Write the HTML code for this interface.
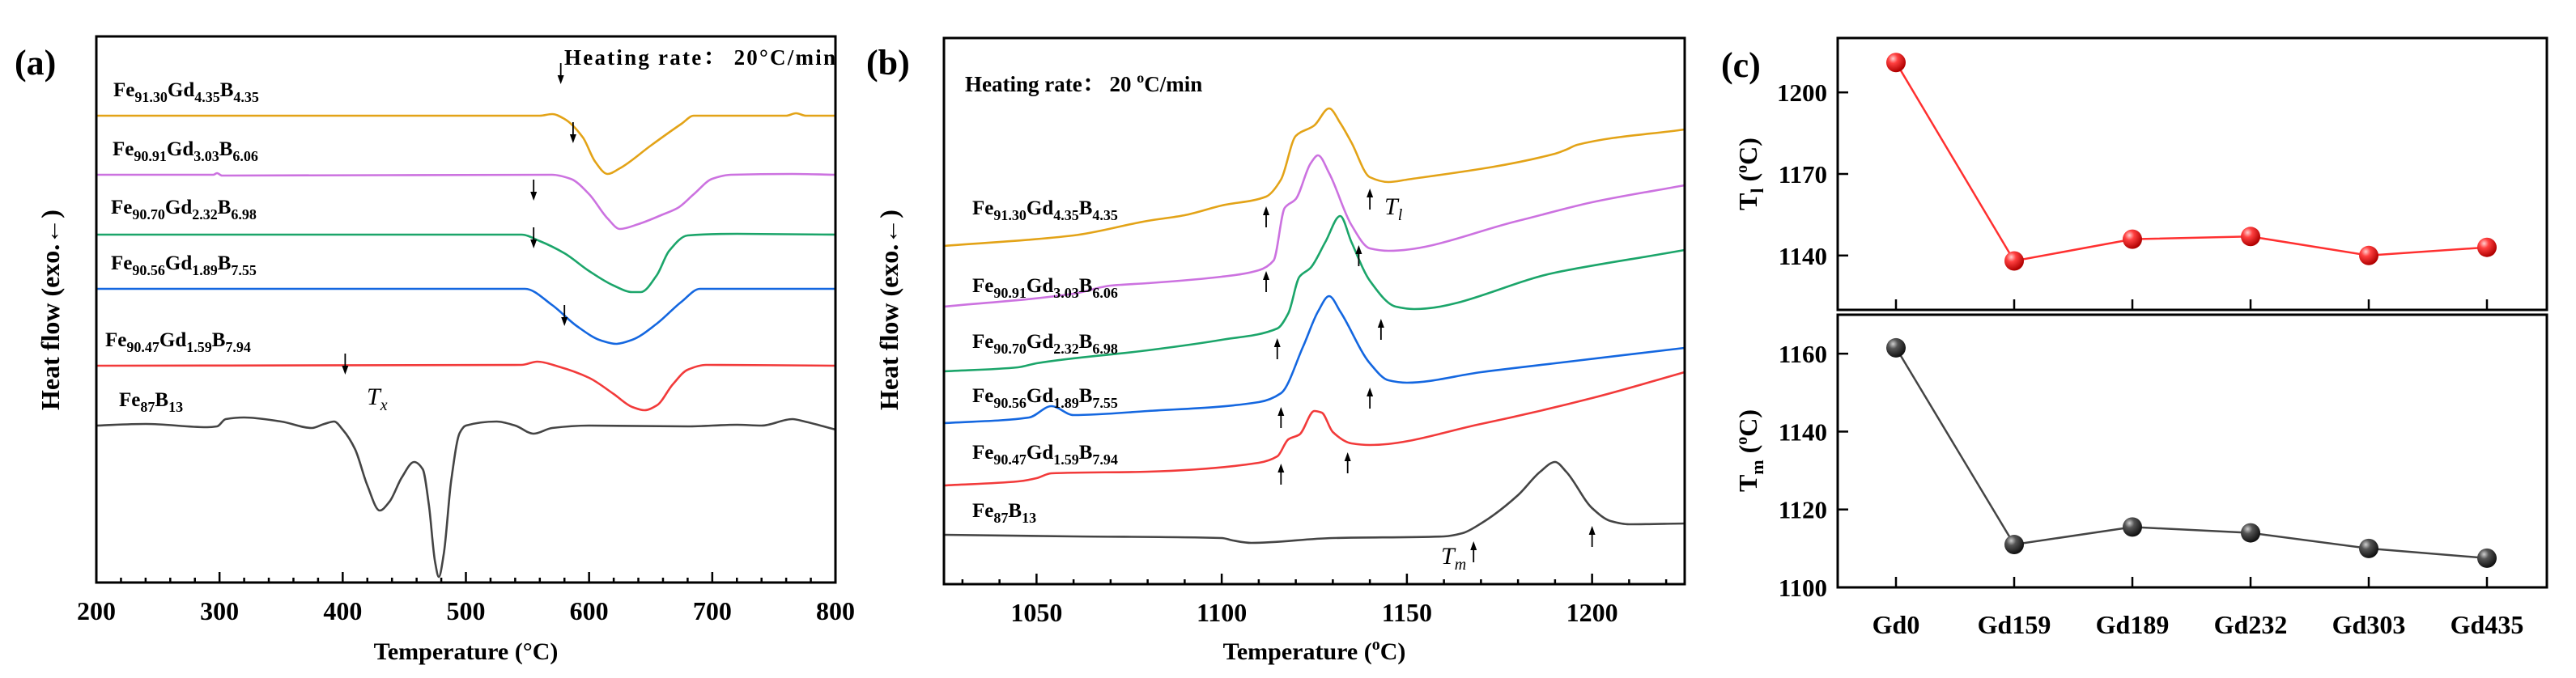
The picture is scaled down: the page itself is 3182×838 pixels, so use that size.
<!DOCTYPE html>
<html><head><meta charset="utf-8">
<style>
html,body{margin:0;padding:0;background:#fff;}
svg{display:block;font-family:"Liberation Serif","Noto Serif CJK SC",serif;font-weight:bold;}
</style></head>
<body>
<svg id="fig" width="3182" height="838" viewBox="0 0 3182 838" xmlns="http://www.w3.org/2000/svg">
<defs>
<radialGradient id="gRed" cx="35%" cy="30%" r="70%"><stop offset="0" stop-color="#ffd0d0"/><stop offset="0.35" stop-color="#ff4040"/><stop offset="1" stop-color="#b00000"/></radialGradient>
<radialGradient id="gGray" cx="35%" cy="30%" r="70%"><stop offset="0" stop-color="#d0d0d0"/><stop offset="0.35" stop-color="#555"/><stop offset="1" stop-color="#111"/></radialGradient>
</defs>
<g id="pa"></g>
<g id="pb"></g>
<g id="pc"></g>
</svg>
<script>
// ---------- Panel (a) data: temperature (°C) vs heat flow (a.u.) ----------
const aNames = ["fe91-30","fe90-91","fe90-70","fe90-56","fe90-47","fe87"];
const aColors = ["#E3A317","#CC72E0","#1BA56A","#1467E0","#F23A3A","#444444"];
const aOrangeT = [200,560,570,580,595,605,615,625,650,675,685,760,768,776,800];
const aOrangeV = [-9.8,-9.8,-9.6,-10.2,-12.5,-15.5,-17.0,-16.3,-13.5,-10.8,-9.8,-9.8,-9.5,-9.8,-9.8];
const aPurpleT = [200,295,298,302,570,585,600,615,625,640,660,672,685,700,715,765,800];
const aPurpleV = [-17.1,-17.1,-16.9,-17.2,-17.1,-17.6,-19.5,-22.5,-23.8,-23.2,-22.0,-21.2,-19.5,-17.6,-17.1,-17.0,-17.1];
const aGreenT = [200,545,560,580,600,620,635,642,655,665,680,720,800];
const aGreenV = [-24.5,-24.5,-25.3,-26.8,-29.0,-30.8,-31.6,-31.6,-29.5,-26.5,-24.6,-24.4,-24.5];
const aBlueT = [200,548,570,590,610,622,635,655,675,690,800];
const aBlueV = [-31.2,-31.2,-33.2,-35.8,-37.6,-38.0,-37.5,-35.5,-32.8,-31.2,-31.2];
const aRedT = [200,545,558,575,600,620,635,645,655,668,680,695,800];
const aRedV = [-40.7,-40.6,-40.2,-40.8,-42.2,-44.2,-45.8,-46.2,-45.6,-43.0,-41.2,-40.6,-40.7];
const aBlackT = [200,240,290,298,305,320,350,375,385,393,400,410,420,430,438,448,458,465,470,475,478,482,488,495,500,525,540,555,570,600,680,720,740,765,775,800];
const aBlackV = [-48.1,-47.9,-48.3,-48.2,-47.3,-47.1,-47.6,-48.4,-47.9,-47.6,-48.6,-51,-55.5,-58.6,-57.5,-54.5,-52.6,-53.5,-58,-65,-66.8,-64,-55,-49,-48.1,-47.6,-48.1,-49.1,-48.4,-48.1,-48.2,-48.0,-48.1,-47.3,-47.6,-48.6];
const aArrowT = [577,587,555,555,580,402];
const aArrowV = [-5.9,-13.2,-20.3,-26.2,-35.8,-41.8];
const aXTicks = [200,300,400,500,600,700,800];

// ---------- Panel (b) data ----------
const bOrangeT = [1025,1060,1080,1090,1100,1112,1116,1120,1125,1129,1132,1135,1140,1145,1150,1190,1193,1196,1225];
const bOrangeV = [-25.7,-24.4,-22.6,-21.9,-20.7,-19.6,-17.5,-12.1,-10.8,-8.7,-10.5,-12.9,-17.2,-17.8,-17.5,-14.3,-13.8,-13.2,-11.3];
const bPurpleT = [1025,1060,1070,1080,1100,1110,1114,1117,1120,1124,1126,1129,1135,1140,1145,1180,1200,1225];
const bPurpleV = [-33.2,-31.6,-30.6,-30.3,-29.5,-28.7,-27.5,-21,-19.9,-15.5,-14.5,-16.7,-23.1,-26.0,-26.3,-22.6,-20.3,-18.2];
const bGreenT = [1025,1045,1050,1080,1100,1115,1118,1121,1124,1128,1132,1135,1140,1147,1152,1190,1220,1225];
const bGreenV = [-41.2,-40.7,-40.2,-38.6,-37.3,-35.9,-34,-29.5,-28.4,-25.2,-22,-25.2,-30.0,-33.2,-33.5,-29.0,-26.6,-26.2];
const bBlueT = [1025,1048,1054,1060,1080,1110,1116,1122,1126,1129,1132,1140,1145,1150,1170,1190,1225];
const bBlueV = [-47.6,-46.9,-45.5,-46.6,-46.1,-45.0,-43.9,-38.1,-33.8,-31.9,-33.8,-40.2,-42.3,-42.6,-41.3,-40.2,-38.3];
const bRedT = [1025,1045,1050,1054,1080,1110,1115,1118,1121,1125,1127,1130,1135,1140,1170,1200,1225];
const bRedV = [-55.3,-54.8,-54.4,-53.8,-53.6,-52.5,-51.7,-49.6,-49.0,-46.1,-46.3,-48.7,-50.1,-50.3,-47.7,-44.5,-41.3];
const bBlackT = [1025,1060,1100,1103,1108,1130,1160,1165,1170,1180,1186,1190,1193,1200,1205,1210,1225];
const bBlackV = [-61.4,-61.6,-61.8,-62.1,-62.4,-61.8,-61.6,-61.2,-60.0,-56.5,-53.6,-52.4,-53.6,-58.1,-59.7,-60.1,-60.0];
const bArrowT = [1112,1140,1112,1137,1115,1143,1116,1140,1116,1134,1168,1200];
const bArrowV = [-23.4,-21.2,-31.4,-28.2,-39.7,-37.3,-48.2,-45.8,-55.2,-53.8,-64.8,-62.9];
const bXTicks = [1050,1100,1150,1200];

// ---------- Panel (c) data ----------
const cCategories = ["Gd0","Gd159","Gd189","Gd232","Gd303","Gd435"];
const cTl = [1211,1138,1146,1147,1140,1143];
const cTm = [1161.5,1111,1115.5,1114,1110,1107.5];
const cTlTicks = [1140,1170,1200];
const cTmTicks = [1100,1120,1140,1160];

const NS = "http://www.w3.org/2000/svg";
function mk(parent, tag, attrs){const e=document.createElementNS(NS,tag);for(const k in attrs)e.setAttribute(k,attrs[k]);parent.appendChild(e);return e;}
// monotone cubic (Fritsch-Carlson) in data space, x strictly increasing
function monoPath(xs,ys){
  const n=xs.length,d=[],m=new Array(n);
  for(let i=0;i<n-1;i++)d.push((ys[i+1]-ys[i])/(xs[i+1]-xs[i]));
  m[0]=d[0];m[n-1]=d[n-2];
  for(let i=1;i<n-1;i++){ if(d[i-1]*d[i]<=0)m[i]=0; else {const h0=xs[i]-xs[i-1],h1=xs[i+1]-xs[i];const w1=2*h1+h0,w2=h1+2*h0;m[i]=(w1+w2)/(w1/d[i-1]+w2/d[i]);} }
  let s="M"+xs[0].toFixed(1)+","+ys[0].toFixed(1);
  for(let i=0;i<n-1;i++){const h=xs[i+1]-xs[i];
    s+="C"+(xs[i]+h/3).toFixed(1)+","+(ys[i]+m[i]*h/3).toFixed(1)+" "+(xs[i+1]-h/3).toFixed(1)+","+(ys[i+1]-m[i+1]*h/3).toFixed(1)+" "+xs[i+1].toFixed(1)+","+ys[i+1].toFixed(1);}
  return s;
}
function txt(parent,x,y,s,size,anchor,extra){const t=mk(parent,"text",Object.assign({x:x,y:y,"font-size":size,"text-anchor":anchor||"start"},extra||{}));t.textContent=s;return t;}
function formula(parent,x,y,parts,name){
  const t=mk(parent,"text",{x:x,y:y,"font-size":25});
  
  
  parts.forEach((p,i)=>{const s=mk(t,"tspan",{});s.textContent=p;
    if(i%2===1){s.setAttribute("font-size","18");s.setAttribute("dy","7");}
    else if(i>0){s.setAttribute("dy","-7");}});
  return t;
}
function arrow(parent,x,y,up,name){
  const g=mk(parent,"g",{});
  
  
  const L=26;
  if(up){mk(g,"line",{x1:x,y1:y,x2:x,y2:y-L+8,stroke:"#000","stroke-width":1.8});mk(g,"polygon",{points:`${x-4},${y-L+11} ${x+4},${y-L+11} ${x},${y-L}`,fill:"#000"});}
  else{mk(g,"line",{x1:x,y1:y-L,x2:x,y2:y-8,stroke:"#000","stroke-width":1.8});mk(g,"polygon",{points:`${x-4},${y-11} ${x+4},${y-11} ${x},${y}`,fill:"#000"});}
}

// ================= Panel A =================
(function(){
  const g=document.getElementById("pa");
  const L=119,R=1032,T=45,B=720;
  const xs=t=>L+(t-200)/600*(R-L);
  const ys=v=>T-v*10;
  const series=[[aOrangeT,aOrangeV],[aPurpleT,aPurpleV],[aGreenT,aGreenV],[aBlueT,aBlueV],[aRedT,aRedV],[aBlackT,aBlackV]];
  series.forEach((s,i)=>{
    const p=mk(g,"path",{d:monoPath(s[0].map(xs),s[1].map(ys)),fill:"none",stroke:aColors[i],"stroke-width":2.6,"stroke-linejoin":"round"});
    
    
  });
  aArrowT.forEach((t,i)=>arrow(g,xs(t),ys(aArrowV[i]),false,'tx-arrow-'+aNames[i]));
  const fr=mk(g,"rect",{x:L,y:T,width:R-L,height:B-T,fill:"none",stroke:"#000","stroke-width":3});
  
  for(let t=200;t<=800;t+=20){const big=(t%100===0);mk(g,"line",{x1:xs(t),y1:B,x2:xs(t),y2:B-(big?13:6),stroke:"#000","stroke-width":2.5});}
  aXTicks.forEach(t=>{const e=txt(g,xs(t),766,String(t),32,"middle");});
  let e=txt(g,(L+R)/2,815,"Temperature (°C)",30,"middle");
  e=txt(g,0,0,"Heat flow (exo.←)",32,"middle",{transform:"translate(73,383) rotate(-90)"});
  e=txt(g,18,92,"(a)",44,"start");
  e=txt(g,697,80,"Heating rate：  20°C/min",27,"start",{textLength:335});
  formula(g,140,119,["Fe","91.30","Gd","4.35","B","4.35"],"label-a-fe91-30");
  formula(g,139,192,["Fe","90.91","Gd","3.03","B","6.06"],"label-a-fe90-91");
  formula(g,137,264,["Fe","90.70","Gd","2.32","B","6.98"],"label-a-fe90-70");
  formula(g,137,333,["Fe","90.56","Gd","1.89","B","7.55"],"label-a-fe90-56");
  formula(g,130,428,["Fe","90.47","Gd","1.59","B","7.94"],"label-a-fe90-47");
  formula(g,147,502,["Fe","87","B","13"],"label-a-fe87");
  e=mk(g,"text",{x:453,y:500,"font-size":30,"font-style":"italic","font-weight":"normal"});e.innerHTML='T<tspan font-size="20" dy="7">x</tspan>';
  
})();

// ================= Panel B =================
(function(){
  const g=document.getElementById("pb");
  const L=1166,R=2081,T=47,B=722;
  const xs=t=>L+(t-1025)/200*(R-L);
  const ys=v=>T-v*10;
  const series=[[bOrangeT,bOrangeV],[bPurpleT,bPurpleV],[bGreenT,bGreenV],[bBlueT,bBlueV],[bRedT,bRedV],[bBlackT,bBlackV]];
  series.forEach((s,i)=>{
    const p=mk(g,"path",{d:monoPath(s[0].map(xs),s[1].map(ys)),fill:"none",stroke:aColors[i],"stroke-width":2.6,"stroke-linejoin":"round"});
    
    
  });
  bArrowT.forEach((t,i)=>arrow(g,xs(t),ys(bArrowV[i]),true,'arrow-b-'+i));
  const fr=mk(g,"rect",{x:L,y:T,width:R-L,height:B-T,fill:"none",stroke:"#000","stroke-width":3});
  
  for(let t=1030;t<=1220;t+=10){const big=(t%50===0);mk(g,"line",{x1:xs(t),y1:B,x2:xs(t),y2:B-(big?13:6),stroke:"#000","stroke-width":2.5});}
  bXTicks.forEach(t=>{const e=txt(g,xs(t),768,String(t),32,"middle");});
  let e=mk(g,"text",{x:(L+R)/2,y:815,"font-size":30,"text-anchor":"middle"});e.innerHTML='Temperature (<tspan font-size="20" dy="-12">o</tspan><tspan dy="12">C)</tspan>';
  
  e=txt(g,0,0,"Heat flow (exo.←)",32,"middle",{transform:"translate(1109,383) rotate(-90)"});
  e=txt(g,1070,92,"(b)",44,"start");
  e=mk(g,"text",{x:1192,y:113,"font-size":27});e.innerHTML='Heating rate：  20 <tspan font-size="18" dy="-11">o</tspan><tspan dy="11">C/min</tspan>';
  
  formula(g,1201,265,["Fe","91.30","Gd","4.35","B","4.35"],"label-b-fe91-30");
  formula(g,1201,361,["Fe","90.91","Gd","3.03","B","6.06"],"label-b-fe90-91");
  formula(g,1201,430,["Fe","90.70","Gd","2.32","B","6.98"],"label-b-fe90-70");
  formula(g,1201,497,["Fe","90.56","Gd","1.89","B","7.55"],"label-b-fe90-56");
  formula(g,1201,567,["Fe","90.47","Gd","1.59","B","7.94"],"label-b-fe90-47");
  formula(g,1201,639,["Fe","87","B","13"],"label-b-fe87");
  e=mk(g,"text",{x:1710,y:265,"font-size":30,"font-style":"italic","font-weight":"normal"});e.innerHTML='T<tspan font-size="20" dy="7">l</tspan>';
  
  e=mk(g,"text",{x:1780,y:697,"font-size":30,"font-style":"italic","font-weight":"normal"});e.innerHTML='T<tspan font-size="20" dy="7">m</tspan>';
  
})();

// ================= Panel C =================
(function(){
  const g=document.getElementById("pc");
  const L=2270,R=3146;
  const xc=i=>2342+i*146;
  function sub(T,B,ymin,ymax,vals,ticks,color,grad,name){
    const ys=v=>B-(v-ymin)/(ymax-ymin)*(B-T);
    const pl=mk(g,"polyline",{points:vals.map((v,i)=>xc(i)+","+ys(v).toFixed(1)).join(" "),fill:"none",stroke:color,"stroke-width":2.5});
    
    vals.forEach((v,i)=>{const c=mk(g,"circle",{cx:xc(i),cy:ys(v),r:12,fill:"url(#"+grad+")"});
      
      });
    const fr=mk(g,"rect",{x:L,y:T,width:R-L,height:B-T,fill:"none",stroke:"#000","stroke-width":3});
    
    ticks.forEach(t=>{mk(g,"line",{x1:L,y1:ys(t),x2:L+13,y2:ys(t),stroke:"#000","stroke-width":2.5});
      const e=txt(g,2257,ys(t)+11,String(t),31,"end");});
    cCategories.forEach((c,i)=>mk(g,"line",{x1:xc(i),y1:B,x2:xc(i),y2:B-13,stroke:"#000","stroke-width":2.5}));
  }
  sub(47,383,1120,1220,cTl,cTlTicks,"#ff3030","gRed","tl");
  sub(389,726,1100,1170,cTm,cTmTicks,"#444","gGray","tm");
  cCategories.forEach((c,i)=>{const e=txt(g,xc(i),783,c,32,"middle");});
  let e=mk(g,"text",{x:0,y:0,"font-size":32,"text-anchor":"middle",transform:"translate(2170,215) rotate(-90)"});
  e.innerHTML='T<tspan font-size="22" dy="8">l</tspan><tspan dy="-8"> (</tspan><tspan font-size="20" dy="-12">o</tspan><tspan dy="12">C)</tspan>';
  
  e=mk(g,"text",{x:0,y:0,"font-size":32,"text-anchor":"middle",transform:"translate(2170,557) rotate(-90)"});
  e.innerHTML='T<tspan font-size="22" dy="8">m</tspan><tspan dy="-8"> (</tspan><tspan font-size="20" dy="-12">o</tspan><tspan dy="12">C)</tspan>';
  
  e=txt(g,2126,95,"(c)",44,"start");
})();
</script>
</body></html>
